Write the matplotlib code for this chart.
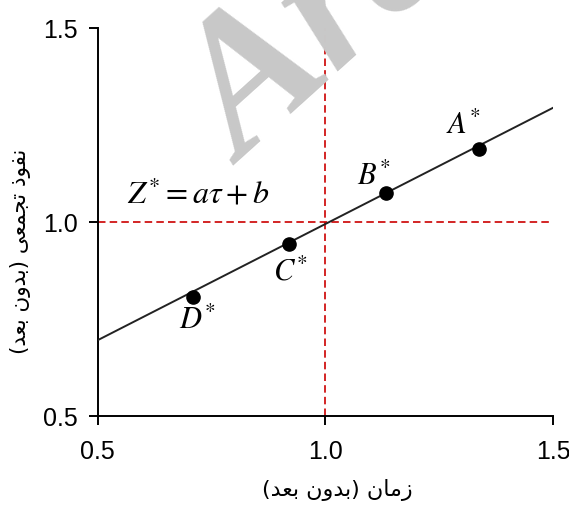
import matplotlib
matplotlib.use("Agg")
import matplotlib.pyplot as plt

# ── data ───────────────────────────────────────────────────────────────────
point_names = ["A", "B", "C", "D"]
point_x = [1.338, 1.132, 0.920, 0.708]
point_y = [1.190, 1.076, 0.945, 0.808]

# label anchor for each point (data coords)
label_x = [1.302, 1.107, 0.924, 0.718]
label_y = [1.250, 1.119, 0.871, 0.747]

fit_x = [0.5, 1.5]
fit_y = [0.696, 1.295]

ref_x = 1.0
ref_y = 1.0

ticks = [0.5, 1.0, 1.5]
tick_labels = ["0.5", "1.0", "1.5"]

equation = r"$Z^{*}=a\tau+b$"

# Arabic labels, pre-shaped (presentation forms, visual order) because
# matplotlib does no bidi / contextual shaping
# x: "زمان (بدون بعد)"   y: "نفوذ تجمعی (بدون بعد)"
w_bad = "\uFEAA\uFECC\uFE91"               # بعد
w_bedun = "\uFEE5\uFEED\uFEAA\uFE91"       # بدون
w_zaman = "\uFEE5\uFE8E\uFEE3\uFEAF"       # زمان
w_tajmoi = "\uFEF0\uFECC\uFEE4\uFEA0\uFE97"  # تجمعی
w_nofuz = "\uFEAB\uFEEE\uFED4\uFEE7"       # نفوذ
xlabel = "(" + w_bad + " " + w_bedun + ")" + " " + w_zaman
ylabel = "(" + w_bad + " " + w_bedun + ")" + " " + w_tajmoi + " " + w_nofuz

plt.rcParams["mathtext.fontset"] = "stix"

fig = plt.figure(figsize=(5.69, 5.05), dpi=100)
ax = fig.add_axes([0.172, 0.176, 0.800, 0.768])

# watermark
fig.text(0.428, 0.672, "Arc", fontsize=138, color="#c8c8c8",
         family="Liberation Serif", style="italic", weight="bold",
         rotation=42, rotation_mode="anchor", ha="left", va="baseline",
         zorder=0)

ax.patch.set_alpha(0)

dash = dict(color="#cc0000", lw=1.2, dashes=(4.5, 2.5))
ax.plot([ref_x, ref_x], [ticks[0], ticks[-1]], **dash, zorder=2)
ax.plot([ticks[0], ticks[-1]], [ref_y, ref_y], **dash, zorder=2)

ax.plot(fit_x, fit_y, color="#222222", lw=1.4, zorder=3)
ax.plot(point_x, point_y, "o", color="black", ms=9.5, zorder=4)

for name, lx, ly in zip(point_names, label_x, label_y):
    ax.text(lx, ly, rf"${name}^{{*}}$", fontsize=22, ha="center",
            va="center", zorder=5)

ax.text(0.72, 1.07, equation, fontsize=23, ha="center", va="center", zorder=5)

ax.set_xlim(ticks[0], ticks[-1])
ax.set_ylim(ticks[0], ticks[-1])
ax.set_xticks(ticks)
ax.set_yticks(ticks)
ax.set_xticklabels(tick_labels, family="Liberation Sans", fontsize=18)
ax.set_yticklabels(tick_labels, family="Liberation Sans", fontsize=18)
ax.tick_params(axis="x", direction="out", length=6.5, width=1.4, pad=11)
ax.tick_params(axis="y", direction="out", length=6.5, width=1.4, pad=8)

for side in ["top", "right"]:
    ax.spines[side].set_visible(False)
for side in ["left", "bottom"]:
    ax.spines[side].set_linewidth(1.4)

ax.text(0.527, -0.19, xlabel, transform=ax.transAxes, fontsize=16,
        family="DejaVu Sans", ha="center", va="center")
ax.text(-0.169, 0.425, ylabel, transform=ax.transAxes, fontsize=15.5,
        family="DejaVu Sans", ha="center", va="center", rotation=90)

fig.savefig("out.png", dpi=100)
